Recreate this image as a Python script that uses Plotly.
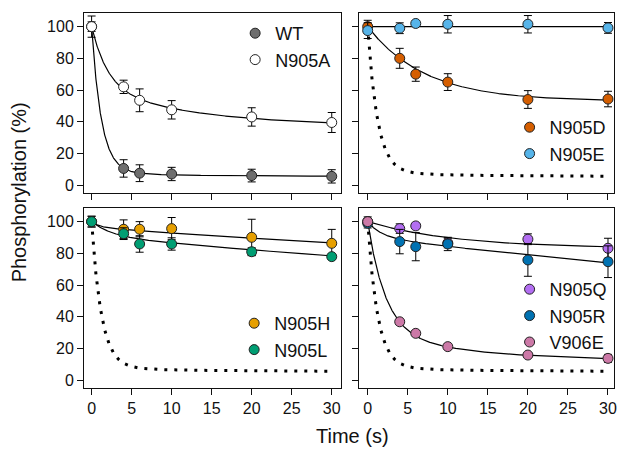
import numpy as np
import plotly.graph_objects as go

# ---------------- data ----------------
time_s = [0, 4, 6, 10, 20, 30]
x_ticks = [0, 5, 10, 15, 20, 25, 30]
y_ticks = [0, 20, 40, 60, 80, 100]

wt = [100, 10.5, 7.5, 7.0, 6.0, 5.5]
wt_err = [3, 5.5, 5.3, 4.2, 4.0, 4.2]
n905a = [100, 62, 53.5, 47.5, 43, 39.5]
n905a_err = [6.7, 4.2, 7.2, 5.8, 5.8, 6.3]

n905d = [100, 80, 70, 65, 54, 54.3]
n905d_err = [4, 6.3, 4.5, 5.3, 5.6, 4.9]
n905e = [97.5, 99, 102, 101.5, 101.5, 99.2]
n905e_err = [5, 3.4, 0, 5.5, 5.5, 3.4]

n905h = [100, 95.2, 95.2, 95.6, 90.1, 86.3]
n905h_err = [3.4, 5.9, 4.8, 7.0, 11.4, 8.8]
n905l = [100, 92.4, 85.9, 85.9, 81.0, 77.9]
n905l_err = [3.4, 3.7, 5.2, 3.9, 2.5, 1.0]

n905q = [100, 95.6, 97.3, 86.5, 88.9, 83.2]
n905q_err = [3, 3, 0, 3, 3.4, 6.3]
n905r = [99, 87.4, 84.2, 85.9, 75.8, 74.7]
n905r_err = [3, 7.7, 8.9, 4.2, 10.3, 10.0]
v906e = [100, 36.8, 29.5, 21.1, 15.8, 13.7]
v906e_err = [2, 1.5, 1.5, 1.5, 1.5, 2.5]

# fitted curve parameters: plateau, amp1, rate1, amp2, rate2
wt_fit = [5.5, 92, 0.82, 2.5, 0.1]
n905a_fit = [37, 38, 0.5, 25, 0.08]
n905d_fit = [53, 47, 0.14, 0, 0]
n905e_fit = [100, 0, 0, 0, 0]
n905h_fit = [60, 3.5, 1.0, 36.5, 0.01055]
n905l_fit = [40, 9, 0.4, 51, 0.00946]
n905q_fit = [83, 17, 0.09, 0, 0]
n905r_fit = [30, 9.5, 0.6, 60.5, 0.0106]
v906e_fit = [12, 70, 0.45, 18, 0.08]

colors = {
    "WT": "#6e6e6e", "N905A": "#ffffff",
    "N905D": "#d55e00", "N905E": "#56b4e9",
    "N905H": "#e69f00", "N905L": "#009e73",
    "N905Q": "#b36ef2", "N905R": "#0072b2", "V906E": "#cc79a7",
}

FONT = "Liberation Sans, Arial, sans-serif"
t_fine = np.linspace(0, 30, 1201)


def model(p):
    P, a1, k1, a2, k2 = p
    return P + a1 * np.exp(-k1 * t_fine) + a2 * np.exp(-k2 * t_fine)


fig = go.Figure()

panels = [
    (1, [("WT", wt, wt_err, wt_fit), ("N905A", n905a, n905a_err, n905a_fit)], False),
    (2, [("N905D", n905d, n905d_err, n905d_fit), ("N905E", n905e, n905e_err, n905e_fit)], True),
    (3, [("N905H", n905h, n905h_err, n905h_fit), ("N905L", n905l, n905l_err, n905l_fit)], True),
    (4, [("N905Q", n905q, n905q_err, n905q_fit), ("N905R", n905r, n905r_err, n905r_fit),
         ("V906E", v906e, v906e_err, v906e_fit)], True),
]

for idx, series, dotted in panels:
    xa = "x" if idx == 1 else f"x{idx}"
    ya = "y" if idx == 1 else f"y{idx}"
    lg = "legend" if idx == 1 else f"legend{idx}"
    if dotted:
        fig.add_trace(go.Scatter(x=t_fine, y=model(wt_fit), mode="lines",
                                 line=dict(color="black", width=3, dash="3px,7px"),
                                 xaxis=xa, yaxis=ya, showlegend=False, hoverinfo="skip"))
    for name, vals, errs, fit in series:
        fig.add_trace(go.Scatter(x=t_fine, y=model(fit), mode="lines",
                                 line=dict(color="black", width=1.2),
                                 xaxis=xa, yaxis=ya, showlegend=False, hoverinfo="skip"))
    for name, vals, errs, fit in series:
        fig.add_trace(go.Scatter(
            x=time_s, y=vals, mode="markers", name=name,
            marker=dict(size=10, color=colors[name], line=dict(color="#222222", width=1)),
            error_y=dict(type="data", array=errs, color="black", thickness=1, width=4),
            xaxis=xa, yaxis=ya, legend=lg))

# layout geometry
L, R, T, B = 84, 7, 13, 61
W, H = 624, 449
pw, ph = W - L - R, H - T - B
xdom_l = [0, 258 / pw]
xdom_r = [277 / pw, 1]
ydom_t = [(388 - 193) / ph, 1]
ydom_b = [0, (388 - 208) / ph]

axis_common = dict(showline=True, linecolor="#111111", linewidth=1, mirror=True,
                   ticks="outside", ticklen=6, tickwidth=1, tickcolor="#111111",
                   showgrid=False, zeroline=False,
                   tickfont=dict(family=FONT, size=16, color="#111111"))

layout = dict(
    width=W, height=H, margin=dict(l=L, r=R, t=T, b=B),
    paper_bgcolor="white", plot_bgcolor="white",
    font=dict(family=FONT, color="#111111"),
)
xr_l = [-0.95, 31.1]
xr_r = [-1.03, 30.75]
yr = [-5, 108.6]
for idx, xd, yd, xr, showx, showy in [
    (1, xdom_l, ydom_t, xr_l, False, True),
    (2, xdom_r, ydom_t, xr_r, False, False),
    (3, xdom_l, ydom_b, xr_l, True, True),
    (4, xdom_r, ydom_b, xr_r, True, False),
]:
    xk = "xaxis" if idx == 1 else f"xaxis{idx}"
    yk = "yaxis" if idx == 1 else f"yaxis{idx}"
    ya = "y" if idx == 1 else f"y{idx}"
    xa = "x" if idx == 1 else f"x{idx}"
    layout[xk] = dict(axis_common, domain=xd, range=xr, tickvals=x_ticks,
                      showticklabels=showx, anchor=ya)
    layout[yk] = dict(axis_common, domain=yd, range=yr, tickvals=y_ticks,
                      showticklabels=showy, anchor=xa)

legend_common = dict(bgcolor="rgba(0,0,0,0)", borderwidth=0,
                     font=dict(family=FONT, size=18, color="#111111"),
                     xanchor="left", yanchor="top")
leg_pos = {1: (236, 15), 2: (512, 109), 3: (235, 305), 4: (512, 271)}
for idx, (px, py) in leg_pos.items():
    key = "legend" if idx == 1 else f"legend{idx}"
    layout[key] = dict(legend_common, x=(px - L) / pw, y=(388 - py) / ph)

fig.update_layout(**layout)

fig.add_annotation(text="Time (s)", xref="paper", yref="paper",
                   x=(354 - L) / pw, y=(388 - 436) / ph, showarrow=False,
                   xanchor="center", yanchor="middle",
                   font=dict(family=FONT, size=20, color="#111111"))
fig.add_annotation(text="Phosphorylation (%)", xref="paper", yref="paper",
                   x=(19 - L) / pw, y=(388 - 192) / ph, showarrow=False, textangle=-90,
                   xanchor="center", yanchor="middle",
                   font=dict(family=FONT, size=20, color="#111111"))

fig.write_html("out.html", config={"displayModeBar": False},
               post_script="document.body.style.margin='0px';document.body.style.overflow='hidden';")
